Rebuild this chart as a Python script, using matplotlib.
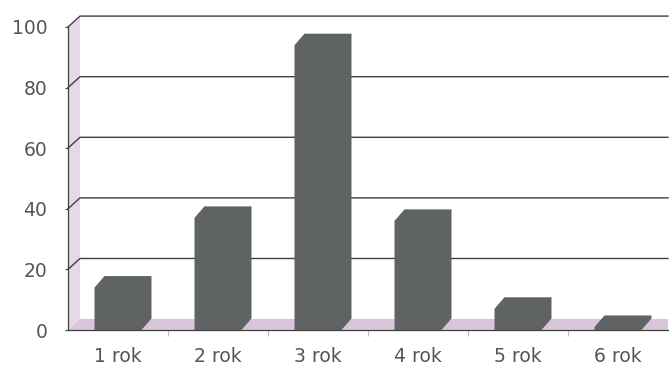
import matplotlib.pyplot as plt
import numpy as np

# survey results by year of study
categories = ['1 rok', '2 rok', '3 rok', '4 rok', '5 rok', '6 rok']
values = [14, 37, 94, 36, 7, 1]
y_ticks = [0, 20, 40, 60, 80, 100]

BAR_COLOR = '#5f6363'
GRID_COLOR = '#404040'
TEXT_COLOR = '#555555'
WALL_COLOR = '#e6d8e6'
FLOOR_COLOR = '#dac6da'

# fake 3D depth, in data units (x: category slots, y: value units)
WALL_DX, WALL_DY = 0.12, 3.6
BAR_DX, BAR_DY = 0.10, 3.8
BAR_W = 0.47

fig = plt.figure(figsize=(6.69, 3.70), dpi=100)
ax = fig.add_axes([68 / 669, 40 / 370, 600 / 669, 303 / 370])
ax.set_xlim(0, len(categories))
ax.set_ylim(0, 100)
for s in ax.spines.values():
    s.set_visible(False)

n = len(categories)

# left wall and floor
ax.fill([0, 0, WALL_DX, WALL_DX], [0, 100, 100 + WALL_DY, WALL_DY],
        color=WALL_COLOR, lw=0, clip_on=False, zorder=1)
ax.fill([0, n, n, WALL_DX], [0, 0, WALL_DY, WALL_DY],
        color=FLOOR_COLOR, lw=0, clip_on=False, zorder=1)

# gridlines on the back wall, with the slant across the left wall
for v in y_ticks[1:]:
    ax.plot([0, WALL_DX, n], [v, v + WALL_DY, v + WALL_DY],
            color=GRID_COLOR, lw=1.0, clip_on=False, zorder=2)

# front axis edges
ax.plot([0, 0], [0, 100], color=GRID_COLOR, lw=0.9, clip_on=False, zorder=2)
ax.plot([0, n], [0, 0], color=GRID_COLOR, lw=0.9, clip_on=False, zorder=2)

# bars as extruded prisms (front face + depth)
for i, v in enumerate(values):
    a = i + 0.5 - BAR_W / 2
    b = i + 0.5 + BAR_W / 2
    xs = [a, a, a + BAR_DX, b + BAR_DX, b + BAR_DX, b]
    ys = [0, v, v + BAR_DY, v + BAR_DY, BAR_DY, 0]
    ax.fill(xs, ys, color=BAR_COLOR, lw=0, clip_on=False, zorder=3)

ax.set_yticks(y_ticks)
ax.set_yticklabels([str(t) for t in y_ticks])
ax.set_xticks(np.arange(n) + 0.5)
ax.set_xticklabels(categories)
ax.set_xticks(np.arange(1, n), minor=True)
ax.tick_params(axis='y', length=2, width=0.8, color=GRID_COLOR, pad=13,
               labelsize=13.5, labelcolor=TEXT_COLOR)
ax.tick_params(axis='x', which='major', length=0, pad=12,
               labelsize=13.5, labelcolor=TEXT_COLOR)
ax.tick_params(axis='x', which='minor', length=4, width=0.8, color='#c9adc9')

fig.savefig('out.png', dpi=100, facecolor='white')
